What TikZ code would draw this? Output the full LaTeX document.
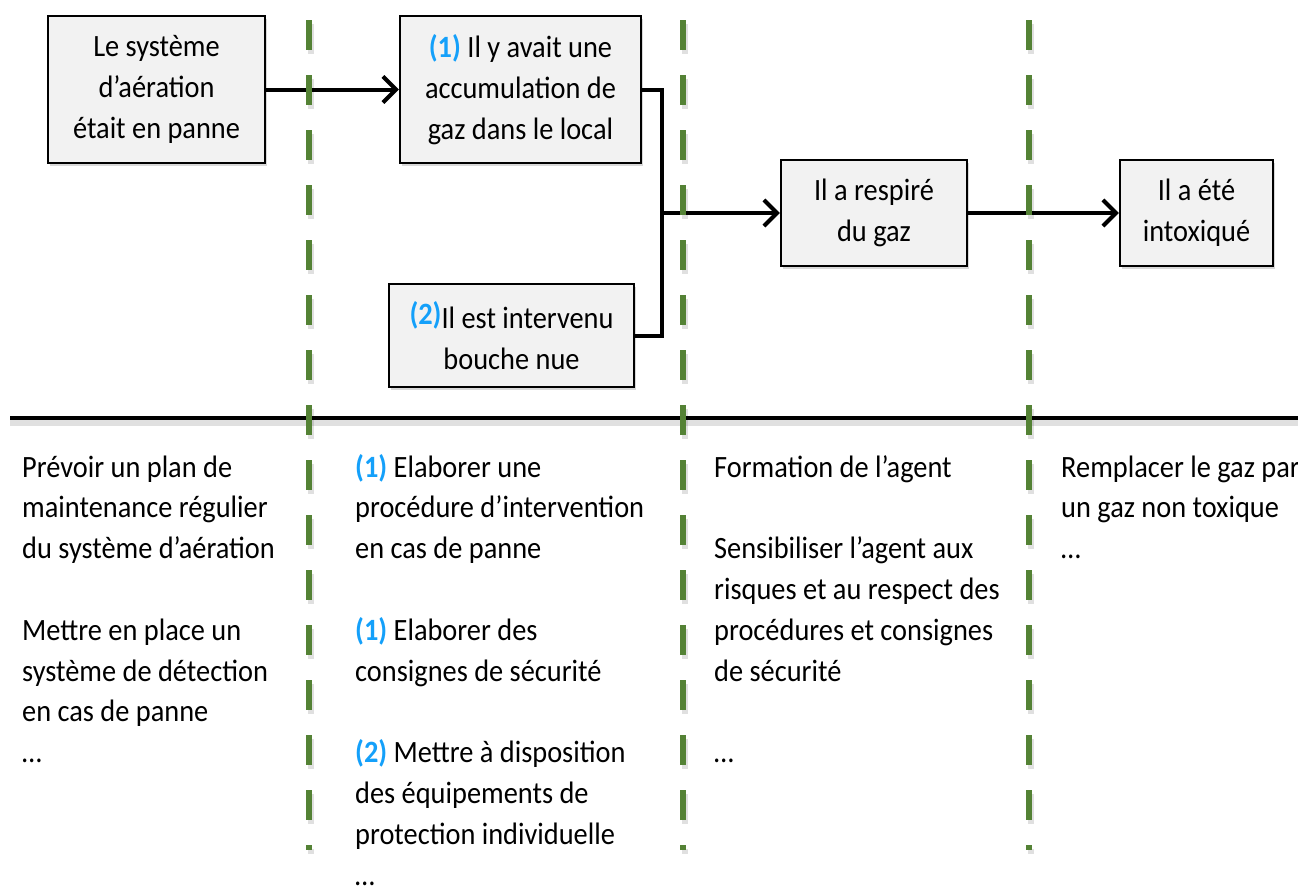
\documentclass[tikz,border=0pt]{standalone}
\usepackage{fontspec}
\setmainfont{Carlito}[FakeStretch=0.915]
\usetikzlibrary{arrows.meta,shadows}
\definecolor{boxgray}{RGB}{242,242,242}
\definecolor{sepgreen}{RGB}{84,130,53}
\definecolor{numblue}{RGB}{20,160,250}
\newcommand{\nbl}[1]{\textcolor{numblue}{\textbf{#1}}}
\begin{document}
\begin{tikzpicture}[x=1pt,y=-1pt,
  every node/.style={font=\fontsize{31}{40.8}\selectfont},
  evbox/.style={draw=black, line width=2.5pt, fill=boxgray, inner sep=0pt,
    align=center,
    drop shadow={opacity=0.3, shadow xshift=2pt, shadow yshift=-3pt}},
  conn/.style={line width=4pt, black},
  arr/.style={conn, -{Straight Barb[length=13pt,width=26pt,line width=4pt]}},
  sep/.style={line width=5.5pt, sepgreen, dash pattern=on 30pt off 25pt},
  coltext/.style={anchor=base west, inner sep=0pt}]
\path[use as bounding box, fill=white] (0,0) rectangle (1298,886);

% boxes
\node[evbox, minimum width=217pt, minimum height=147pt] (b1) at (156.5,89.5)
  {Le système\\d’aération\\était en panne};
\node[evbox, minimum width=241pt, minimum height=147pt] (b2) at (520.5,89.5)
  {\nbl{(1)} Il y avait une\\accumulation de\\gaz dans le local};
\node[evbox, minimum width=245pt, minimum height=103pt] (b3) at (511.5,335.5)
  {\raisebox{4pt}{\nbl{(2)}}Il est intervenu\\bouche nue};
\node[evbox, minimum width=186pt, minimum height=106pt] (b4) at (874,213)
  {Il a respiré\\du gaz};
\node[evbox, minimum width=153pt, minimum height=106pt] (b5) at (1196.5,213)
  {Il a été\\intoxiqué};

% connectors
\coordinate (j) at (662,213);
\draw[arr] (b1.east) -- (b2.west);
\draw[conn] (b2.east) -| (j);
\draw[conn] (b3.east) -| (j);
\draw[arr] (j) -- (b4.west);
\draw[arr] (b4.east) -- (b5.west);

% horizontal separator
\draw[line width=6pt, black, opacity=0.12] (10,423) -- (1310,423);
\draw[line width=4.5pt, black] (10,418) -- (1310,418);

% lower text columns
\node[coltext] (c1) at (22,477) {\begin{tabular}[t]{@{}l@{}}
Prévoir un plan de\\
maintenance régulier\\
du système d’aération\\
\\
Mettre en place un\\
système de détection\\
en cas de panne\\
…\end{tabular}};
\node[coltext] (c2) at (355,477) {\begin{tabular}[t]{@{}l@{}}
\nbl{(1)} Elaborer une\\
procédure d’intervention\\
en cas de panne\\
\\
\nbl{(1)} Elaborer des\\
consignes de sécurité\\
\\
\nbl{(2)} Mettre à disposition\\
des équipements de\\
protection individuelle\\
…\end{tabular}};
\node[coltext] (c3) at (714,477) {\begin{tabular}[t]{@{}l@{}}
Formation de l’agent\\
\\
Sensibiliser l’agent aux\\
risques et au respect des\\
procédures et consignes\\
de sécurité\\
\\
…\end{tabular}};
\node[coltext] (c4) at (1061,477) {\begin{tabular}[t]{@{}l@{}}
Remplacer le gaz par\\
un gaz non toxique\\
…\end{tabular}};

% green dashed separators
\foreach \xx in {309,683,1029}{
  \draw[sep, black, opacity=0.12] (\xx+2,24) -- (\xx+2,854);
  \draw[sep] (\xx,20) -- (\xx,850);
}
\end{tikzpicture}
\end{document}
